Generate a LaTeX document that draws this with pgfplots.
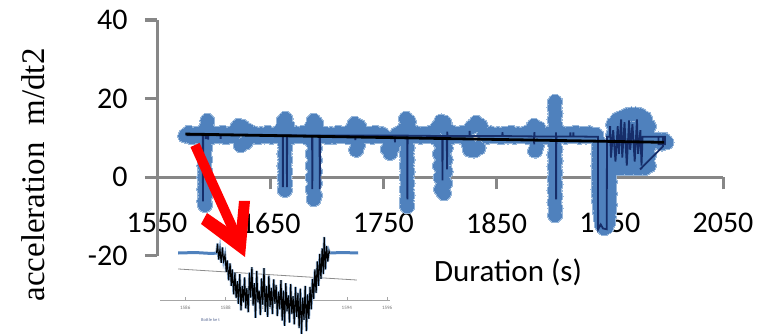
\documentclass[border=0pt]{standalone}
\usepackage{pgfplots}
\usepackage{pgfplotstable}
\pgfplotsset{compat=1.18}
\usepackage{fontspec}
\setmainfont{Carlito}
\newfontfamily\timesf{Liberation Serif}
\definecolor{mblue}{RGB}{79,129,189}
\definecolor{hblue}{RGB}{150,182,218}
\definecolor{lblue}{RGB}{140,175,215}
\definecolor{navy}{RGB}{22,45,105}
\definecolor{axgray}{RGB}{135,135,135}
\pgfplotstableread{
t v
1575 10.6
1578 11.3
1581 10.2
1584 11.0
1587 10.4
1589.5 11.4
1591.8 9.0
1592.6 7.5
1591.8 6.0
1592.6 4.5
1591.8 3.0
1592.6 1.5
1591.8 0.0
1592.6 -1.5
1591.8 -3.0
1592.6 -4.5
1591.8 -6.0
1592.4 -7.0
1593.5 12.8
1594.5 14.4
1596 11.8
1599 10.3
1602 11.1
1605 10.4
1608 11.3
1611 10.2
1614 11.0
1617 10.5
1620 12.2
1622 13.1
1624 8.2
1626 12.8
1628 8.8
1630 12.0
1633 10.3
1636 11.2
1639 10.2
1642 11.0
1645 10.4
1648 11.3
1651 10.3
1654 11.0
1657 10.4
1660 12.2
1662 14.4
1663.5 14.9
1665 13.2
1662.6 9.0
1663.4 7.5
1662.6 6.0
1663.4 4.5
1662.6 3.0
1663.4 1.5
1662.6 0.0
1663.4 -1.5
1663 -3.2
1667 11.0
1670 10.3
1673 11.2
1676 10.5
1679 11.3
1682 10.2
1685 11.0
1686.5 12.8
1688.5 14.4
1690.5 13.8
1687.5 9.0
1689.5 7.5
1687.5 6.0
1689.5 4.5
1687.5 3.0
1689.5 1.5
1687.5 0.0
1689.5 -1.5
1687.5 -3.0
1689.5 -4.5
1688.5 -5.5
1692.5 11.8
1695 10.4
1698 11.1
1701 10.2
1704 11.0
1707 10.3
1710 11.3
1713 10.5
1716 11.1
1719 10.2
1722 12.2
1724.5 13.6
1726 7.0
1727.5 8.3
1728.5 13.0
1731 11.6
1734 10.4
1737 11.1
1740 10.3
1743 11.3
1746 10.5
1749 11.0
1752 10.2
1754 7.2
1756 6.2
1758 7.6
1760 9.0
1762 11.0
1765 10.3
1768 12.2
1770 14.9
1772.5 14.2
1770.5 9.0
1771.3 7.5
1770.5 6.0
1771.3 4.5
1770.5 3.0
1771.3 1.5
1770.5 0.0
1771.3 -1.5
1770.5 -3.0
1771.3 -4.5
1770.5 -6.0
1771 -7.3
1774.5 11.9
1777 10.4
1780 11.2
1783 10.3
1786 11.1
1789 10.5
1792 11.3
1795 10.2
1798 12.8
1801 14.2
1804 13.9
1806.5 12.0
1800 9.0
1805 7.5
1800 6.0
1805 4.5
1800 3.0
1805 1.5
1800.5 0.0
1804.5 -1.5
1801 -3.0
1803.5 -4.0
1808.5 11.7
1811 10.3
1814 11.1
1817 10.4
1820 11.3
1823 10.3
1825 8.6
1826.5 7.0
1828 12.8
1830 6.8
1832 13.9
1834 7.5
1836 13.1
1839 11.0
1842 10.3
1845 11.2
1848 10.5
1851 11.0
1854 10.2
1857 11.1
1860 10.4
1863 11.3
1866 10.3
1869 11.0
1872 10.5
1875 11.2
1878 10.2
1881 12.2
1883 13.1
1884 6.8
1885.5 8.0
1887 12.5
1890 10.8
1893 10.2
1896 11.1
1899 11.0
1901.6 19.2
1901.2 17.7
1902.0 16.2
1901.2 14.7
1902.0 13.2
1901.2 11.7
1902.0 10.2
1901.2 8.7
1902.0 7.2
1901.2 5.7
1902.0 4.2
1901.2 2.7
1902.0 1.2
1901.2 -0.3
1902.0 -1.8
1901.2 -3.3
1902.0 -4.8
1901.2 -6.3
1902.0 -7.8
1901.6 -9.6
1905 10.5
1908 11.2
1911 10.3
1914 11.1
1917 10.5
1920 11.3
1923 10.3
1926 11.1
1929 10.4
1932 11.2
1935 10.5
1938 10.8
1940 9.0
1940.5 7.5
1940 6.0
1940.5 4.5
1940 3.0
1940.5 1.5
1940 0.0
1940.5 -1.5
1940 -3.0
1940.5 -4.5
1940.5 -6.0
1941 -7.5
1941.5 -9.0
1942 -10.5
1943 -12.0
1945 -12.9
1947 -12.6
1948.5 -11.5
1949 -10.0
1949.5 -8.5
1950 -7.0
1949.5 -5.5
1950 -4.0
1949.5 -2.5
1950 -1.0
1949.5 0.5
1950 2.0
1949.5 3.5
1950 5.0
1949.5 6.5
1950 8.0
1945 -9.0
1945 -5.0
1945 -1.0
1945 3.0
1945 7.0
1953 3.5
1953 6.0
1953 8.5
1953 11.0
1953 13.5
1957 2.4
1957 5.0
1957 7.5
1957 10.0
1957 12.5
1957 14.8
1961 2.4
1961 5.0
1961 7.5
1961 10.0
1961 12.5
1961 15.2
1965 2.4
1965 5.0
1965 7.5
1965 10.0
1965 12.5
1965 15.8
1969 2.4
1969 5.0
1969 7.5
1969 10.0
1969 12.5
1969 16.0
1973 2.4
1973 5.0
1973 7.5
1973 10.0
1973 12.5
1973 16.0
1977 2.4
1977 5.0
1977 7.5
1977 10.0
1977 12.5
1977 15.8
1981 2.4
1981 5.0
1981 7.5
1981 10.0
1981 12.5
1981 15.0
1984.5 3.0
1984.5 5.5
1984.5 8.0
1984.5 10.5
1984.5 13.0
1993 9.6
1996 8.6
1998 9.5
2000 8.9
}\bluedata
\pgfplotstableread{
t v
1587.55 10.0
1587.60 12.0
1587.66 8.6
1587.72 10.8
1587.78 7.9
1587.84 11.2
1587.90 8.3
1587.97 9.6
1588.03 6.0
1588.08 8.4
1588.15 4.2
1588.22 7.8
1588.28 3.0
1588.33 6.5
1588.40 1.2
1588.46 5.8
1588.52 0.4
1588.58 4.0
1588.63 -0.8
1588.70 5.5
1588.76 -2.2
1588.82 3.0
1588.88 -0.5
1588.94 4.8
1589.00 -1.8
1589.05 2.5
1589.12 -2.6
1589.18 5.8
1589.24 0.5
1589.30 7.0
1589.36 -1.2
1589.42 3.6
1589.48 -3.8
1589.54 6.2
1589.60 -0.5
1589.66 2.0
1589.72 -3.2
1589.78 4.6
1589.84 -1.0
1589.90 6.8
1589.96 -2.5
1590.02 3.0
1590.08 -3.6
1590.14 5.2
1590.20 -1.5
1590.26 2.6
1590.32 -3.0
1590.38 4.4
1590.44 -0.8
1590.50 3.2
1590.56 -3.4
1590.62 1.8
1590.68 -2.0
1590.74 4.2
1590.80 -4.4
1590.86 2.0
1590.92 -5.5
1590.98 3.6
1591.04 -2.4
1591.10 1.0
1591.16 -4.8
1591.22 3.4
1591.28 -3.0
1591.34 0.8
1591.40 -5.2
1591.46 2.8
1591.52 -3.6
1591.58 1.5
1591.64 -6.0
1591.70 2.4
1591.76 -7.2
1591.82 0.5
1591.88 -4.2
1591.94 3.0
1592.00 -6.6
1592.06 1.2
1592.12 -4.0
1592.18 2.8
1592.24 -2.0
1592.30 4.5
1592.36 0.2
1592.42 6.5
1592.48 1.5
1592.54 8.2
1592.60 3.0
1592.66 9.8
1592.72 4.5
1592.78 11.0
1592.84 5.5
1592.88 13.4
1592.94 6.5
1593.00 11.5
1593.06 8.2
1593.12 10.4
1593.16 9.9
}\insetdata
\begin{document}
\begin{tikzpicture}
\begin{axis}[
  at={(157pt,-256pt)}, anchor=south west,
  scale only axis, width=566pt, height=236pt,
  xmin=1550, xmax=2050, ymin=-20, ymax=40,
  axis x line=middle, axis y line=left,
  every inner x axis line/.append style={-, draw=axgray, line width=3pt},
  every outer y axis line/.append style={-, draw=axgray, line width=3pt},
  hide obscured x ticks=false, hide obscured y ticks=false,
  xtick={1550,1650,1750,1850,1950,2050}, ytick={-20,0,20,40},
  xticklabels={1550,1650,1750,1850,1950,2050},
  yticklabels={-20,0,20,40},
  xtick align=outside, ytick align=outside, tickwidth=12pt,
  xtick style={draw=axgray, line width=3pt},
  ytick style={draw=axgray, line width=3pt},
  ticklabel style={font=\fontsize{30}{36}\selectfont, text=black},
  xticklabel style={yshift=-20pt},
  yticklabel style={xshift=-14pt},
  clip=false,
]
\draw[axgray, line width=3pt] (axis cs:1550,-20) -- (axis cs:1550,40);
\draw[axgray, line width=3pt] (axis cs:1550,0) -- (axis cs:2050,0);
\draw[axgray, line width=3pt] (axis cs:1550,-20) -- ++(-12pt,0pt);
\draw[axgray, line width=3pt] (axis cs:1550,0) -- ++(-12pt,0pt);
\draw[axgray, line width=3pt] (axis cs:1550,20) -- ++(-12pt,0pt);
\draw[axgray, line width=3pt] (axis cs:1550,40) -- ++(-12pt,0pt);
\draw[axgray, line width=3pt] (axis cs:1550,0) -- ++(0pt,-12pt);
\draw[axgray, line width=3pt] (axis cs:1650,0) -- ++(0pt,-12pt);
\draw[axgray, line width=3pt] (axis cs:1750,0) -- ++(0pt,-12pt);
\draw[axgray, line width=3pt] (axis cs:1850,0) -- ++(0pt,-12pt);
\draw[axgray, line width=3pt] (axis cs:1950,0) -- ++(0pt,-12pt);
\draw[axgray, line width=3pt] (axis cs:2050,0) -- ++(0pt,-12pt);
\addplot[only marks, color=hblue, mark=*, mark size=7.6pt, mark options={draw=hblue, fill=hblue, line width=0pt}] table[x=t,y=v] {\bluedata};
\addplot[only marks, color=mblue, mark=*, mark size=6.4pt, mark options={draw=mblue, fill=mblue, line width=0pt}] table[x=t,y=v] {\bluedata};
\end{axis}
\begin{axis}[
  at={(157pt,-256pt)}, anchor=south west,
  scale only axis, width=566pt, height=236pt,
  xmin=1550, xmax=2050, ymin=-20, ymax=40,
  hide axis, clip=false,
]
\addplot[navy, line width=1.8pt] coordinates {
(1576,10.7) (1590.4,10.7) (1590.6,-6.1) (1590.8,10.7) (1593,10.7) (1593.2,9.7)
(1593.4,10.7) (1595,10.7) (1595.2,9.6) (1595.4,10.7) (1606,10.7) (1606.2,9.8)
(1606.4,10.7) (1661,10.7) (1661.2,-2.5) (1661.4,10.7) (1664.6,10.7) (1664.8,-2.5)
(1665,10.7) (1687,10.6) (1687.2,-3) (1687.4,10.6) (1693.6,10.6) (1693.8,-3)
(1694,10.6) (1725,10.6) (1725.2,9.5) (1725.4,10.6) (1760,10.6) (1760.2,8.9)
(1760.4,10.6) (1771,10.6) (1771.2,-5.6) (1771.4,10.6) (1802,10.5) (1802.2,-0.8)
(1802.4,10.5) (1806,10.5) (1806.2,2) (1806.4,11.6) (1806.6,10.5) (1826,10.5)
(1826.2,11.8) (1826.4,10.5) (1855,10.5) (1855.2,11.5) (1855.4,10.5) (1883,10.4)
(1883.2,8.4) (1883.4,11.5) (1883.6,10.4) (1902.4,10.4) (1902.5,11.4) (1902.6,-5.6)
(1902.8,10.4) (1915,10.4) (1915.2,11.4) (1915.4,10.4) (1917.6,10.4) (1917.8,11.4)
(1918,10.4) (1939.5,10.3) (1939.7,-13.2) (1942,-12) (1944,-13) (1947.3,-13.2)
(1947.5,10.3) (1950,10.3) (1950.3,13) (1951,5) (1953,12) (1955,4) (1957,13)
(1958,6) (1960,14.7) (1961,5) (1963,14) (1965,3) (1967,14.5) (1968,7)
(1970,13.5) (1972,4) (1974,14.7) (1975,6) (1977,12) (1978,3) (1979,10.3)
(1998.8,10.3) (1998.8,8.4) (1993,8.4) (1993,10.3)
};
\addplot[navy, line width=1.8pt] coordinates {(1976.7,2) (1997,7.9) (1997,10.3)};
\addplot[black, line width=2.8pt] coordinates {(1575,11.0) (1998,8.9)};
\end{axis}
\begin{axis}[
  at={(160pt,-337.6pt)}, anchor=south west,
  scale only axis, width=230pt, height=103.4pt,
  xmin=1584.75, xmax=1596.14, ymin=-8, ymax=14,
  axis x line=middle, hide y axis,
  every inner x axis line/.append style={-, draw=black!35, line width=0.5pt},
  hide obscured x ticks=false,
  xtick={1586,1588,1590,1592,1594,1596},
  xticklabels={1586,1588,1590,1592,1594,1596},
  xtick align=inside, tickwidth=3pt,
  xtick style={draw=black!35, line width=0.5pt},
  xticklabel style={font=\fontsize{5}{6}\selectfont, text=black!55, yshift=-3pt},
  clip=false,
]
\addplot[black!45, line width=0.8pt] coordinates {(1585.65,6.6) (1594.5,4.25)};
\addplot[mblue, line width=3pt] coordinates {(1585.65,10) (1586.5,10.1) (1587.3,9.9) (1587.6,10)};
\addplot[mblue, line width=3pt] coordinates {(1593.1,10) (1593.8,10.1) (1594.56,10)};
\addplot[lblue, line width=2.6pt] table[x=t,y=v] {\insetdata};
\addplot[black, line width=1.1pt] table[x=t,y=v] {\insetdata};
\node[font=\fontsize{4.5}{5}\selectfont, text=navy!70] at (axis cs:1587.25,-4.3) {Bottle ke t};
\end{axis}
\node[font=\fontsize{31}{37}\selectfont, anchor=center] at (508pt,-272pt) {Duration (s)};
\node[font=\timesf\fontsize{33}{40}\selectfont, rotate=90, anchor=center] at (33pt,-175pt) {acceleration\ \ m/dt2};
\draw[red, line width=10pt] (195pt,-145pt) -- (238pt,-240pt);
\fill[red] (245pt,-257pt) -- (201pt,-224pt) -- (207pt,-213pt) -- (236pt,-233pt) -- (239pt,-201pt) -- (250pt,-201pt) -- cycle;
\pgfresetboundingbox
\path[use as bounding box] (0pt,0pt) rectangle (759pt,-336pt);
\end{tikzpicture}
\end{document}
